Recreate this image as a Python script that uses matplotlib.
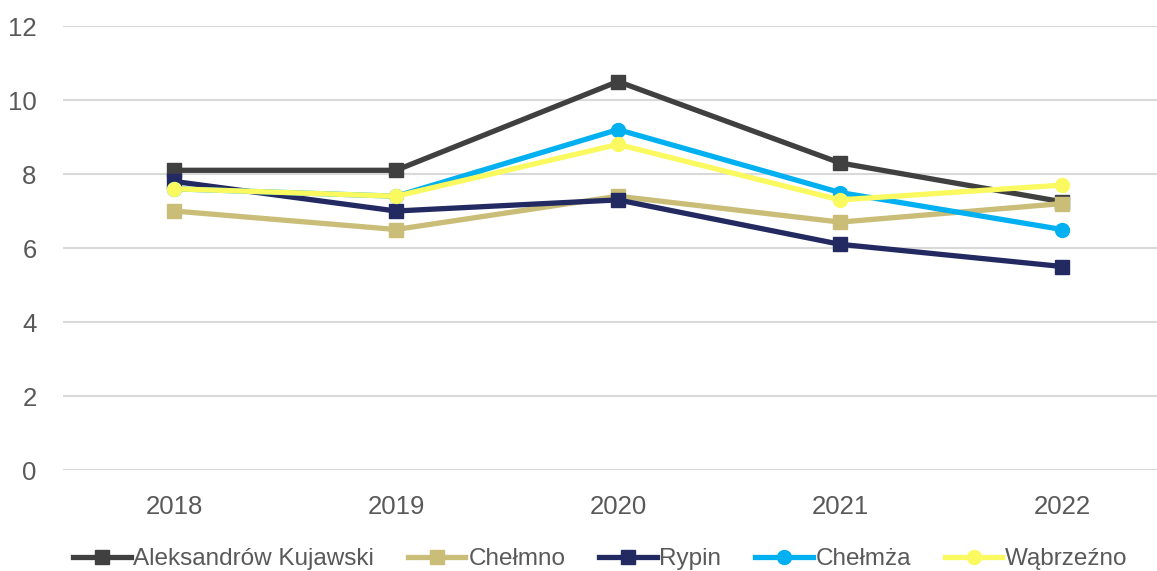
import matplotlib.pyplot as plt

plt.rcParams['font.family'] = ['Liberation Sans', 'DejaVu Sans']

years = ['2018', '2019', '2020', '2021', '2022']
aleksandrow = [8.1, 8.1, 10.5, 8.3, 7.25]
chelmno = [7.0, 6.5, 7.4, 6.7, 7.2]
rypin = [7.8, 7.0, 7.3, 6.1, 5.5]
chelmza = [7.6, 7.4, 9.2, 7.5, 6.5]
wabrzezno = [7.6, 7.4, 8.8, 7.3, 7.7]

names = ['Aleksandrów Kujawski', 'Chełmno', 'Rypin', 'Chełmża', 'Wąbrzeźno']
series = [aleksandrow, chelmno, rypin, chelmza, wabrzezno]
colors = ['#404040', '#C9BD78', '#232A62', '#00B0F0', '#FAFA60']
markers = ['s', 's', 's', 'o', 'o']

W, H = 1157, 571
fig = plt.figure(figsize=(W / 100, H / 100), dpi=100)
ax = fig.add_axes([63 / W, 1 - 470 / H, (W - 63) / W, 444 / H])

x = list(range(len(years)))
for vals, name, c, m in zip(series, names, colors, markers):
    ax.plot(x, vals, color=c, lw=3.8, marker=m, markersize=10, label=name)

ax.set_xlim(-0.5, -0.5 + (W - 63) / 222)
ax.set_ylim(0, 12)
ax.set_yticks([0, 2, 4, 6, 8, 10, 12])
ax.set_xticks(x)
ax.set_xticklabels(years)
ax.grid(axis='y', color='#D9D9D9', lw=1.5)
ax.set_axisbelow(True)
for s in ax.spines.values():
    s.set_visible(False)
ax.tick_params(length=0, labelsize=18.5, labelcolor='#595959')
ax.tick_params(axis='y', pad=19)
ax.tick_params(axis='x', pad=18)

fig.legend(loc='center', bbox_to_anchor=(0.519, 1 - 559 / H), ncol=5, frameon=False,
           fontsize=17.5, labelcolor='#595959', handlelength=2.35, handletextpad=0.12,
           columnspacing=1.4)

plt.savefig('out.png', dpi=100)
